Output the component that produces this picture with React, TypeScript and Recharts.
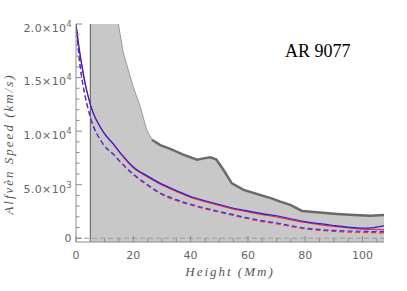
import React from "react";
import { ComposedChart, Line, Area, XAxis, YAxis, ReferenceLine } from "recharts";

// heights (Mm) shared by the four model curves
const heights = [0, 1, 2, 3, 4, 5, 6, 8, 10, 13, 16, 20, 25, 30, 35, 40, 45, 50, 55, 60, 65, 70, 75, 80, 85, 90, 95, 100, 104, 107.5];
const blueSolid = [20000, 17900, 16200, 14700, 13500, 12500, 11700, 10600, 9750, 8800, 7800, 6650, 5800, 5050, 4450, 3900, 3500, 3150, 2800, 2550, 2300, 2100, 1820, 1560, 1360, 1190, 1040, 940, 1000, 1150];
const redSolid = [20000, 17900, 16200, 14700, 13500, 12500, 11700, 10600, 9750, 8800, 7750, 6570, 5720, 4970, 4370, 3820, 3420, 3070, 2720, 2460, 2200, 1990, 1720, 1470, 1270, 1100, 960, 860, 820, 800];
const blueDashed = [20000, 17100, 15000, 13500, 12300, 11300, 10500, 9400, 8600, 7850, 7000, 6000, 5000, 4150, 3600, 3180, 2820, 2500, 2200, 1900, 1650, 1430, 1180, 950, 820, 730, 680, 650, 630, 620];
const redDashed = [20000, 17100, 15000, 13500, 12300, 11300, 10500, 9400, 8600, 7850, 6950, 5930, 4920, 4070, 3520, 3100, 2740, 2420, 2120, 1820, 1560, 1350, 1100, 880, 740, 640, 580, 540, 520, 500];

// upper edge of the grey band
const envHeights = [5, 10, 14.8, 16.5, 20, 22.4, 24.7, 26.5, 29.4, 32.9, 37, 42.2, 45, 46.9, 49, 51.5, 54.4, 58.5, 64.3, 68, 71.3, 74.8, 78.9, 85, 91.2, 97, 102.8, 107.5];
const envSpeed = [40000, 26000, 20000, 17300, 14100, 12300, 10100, 9200, 8700, 8350, 7850, 7330, 7480, 7560, 7350, 6370, 5130, 4510, 4040, 3750, 3420, 3110, 2550, 2400, 2270, 2170, 2090, 2170];
const thickFrom = 26.5;

const xTicks = [0, 5, 10, 15, 20, 25, 30, 35, 40, 45, 50, 55, 60, 65, 70, 75, 80, 85, 90, 95, 100, 105];
const yTicks = [0, 1000, 2000, 3000, 4000, 5000, 6000, 7000, 8000, 9000, 10000, 11000, 12000, 13000, 14000, 15000, 16000, 17000, 18000, 19000, 20000];
const yLabels: Record<number, [string, string]> = {
  0: ["0", ""],
  5000: ["5.0×10", "3"],
  10000: ["1.0×10", "4"],
  15000: ["1.5×10", "4"],
  20000: ["2.0×10", "4"],
};

const X_MAX = 107.5;
const Y_MIN = -350;
const Y_MAX = 20000;
const BAND_START = 5;

const AXIS = "#8a8a8a";
const LABEL = "#666";
const TICK_FONT = "DejaVu Sans";

const rows = (xs: number[], ys: number[]) => xs.map((h, i) => ({ h, v: ys[i] }));

const blueSolidData = rows(heights, blueSolid);
const redSolidData = rows(heights, redSolid);
const blueDashedData = rows(heights, blueDashed);
const redDashedData = rows(heights, redDashed);
const envData = rows(envHeights, envSpeed);
const envEdgeData = envData.filter((d) => d.h >= thickFrom);

const BottomTick = (props: any) => {
  const { x, y, payload } = props;
  const v = payload.value;
  const major = v % 20 === 0;
  const axisY = y - 9;
  return (
    <g>
      <line x1={x} x2={x} y1={axisY} y2={axisY - (major ? 6 : 3.5)} stroke={AXIS} />
      {major && (
        <text x={x} y={y} dy="0.71em" textAnchor="middle" fill={LABEL} fontSize={11} fontFamily={TICK_FONT}>
          {v}
        </text>
      )}
    </g>
  );
};

const TopTick = (props: any) => {
  const { x, y, payload } = props;
  const major = payload.value % 20 === 0;
  return <line x1={x} x2={x} y1={y} y2={y + (major ? 6 : 3.5)} stroke={AXIS} />;
};

const LeftTick = (props: any) => {
  const { x, y, payload } = props;
  const v = payload.value;
  const major = v % 5000 === 0;
  const axisX = x + 4;
  const lab = yLabels[v];
  return (
    <g>
      <line x1={axisX} x2={axisX + (major ? 6 : 3.5)} y1={y} y2={y} stroke={AXIS} />
      {lab && (
        <text
          x={x}
          y={lab[1] ? y + 4 : y}
          dy="0.35em"
          textAnchor="end"
          fill={LABEL}
          fontSize={11}
          fontFamily={TICK_FONT}
          letterSpacing={0.4}
        >
          {lab[0]}
          {lab[1] && (
            <tspan dy={-5} fontSize={8}>
              {lab[1]}
            </tspan>
          )}
        </text>
      )}
    </g>
  );
};

const RightTick = (props: any) => {
  const { x, y, payload } = props;
  const major = payload.value % 5000 === 0;
  return <line x1={x} x2={x - (major ? 6 : 3.5)} y1={y} y2={y} stroke={AXIS} />;
};

const titleStyle: React.CSSProperties = {
  position: "absolute",
  fontFamily: "'Liberation Serif', serif",
  fontStyle: "italic",
  fontSize: 13,
  letterSpacing: 2,
  color: "#555",
  whiteSpace: "nowrap",
};

export default function App() {
  return (
    <div style={{ position: "absolute", left: 0, top: 0, width: 407, height: 291, background: "#fff" }}>
      <ComposedChart width={407} height={291} margin={{ top: 24, right: 23, left: 0, bottom: 0 }}>
        <XAxis
          xAxisId="b"
          type="number"
          dataKey="h"
          domain={[0, X_MAX]}
          allowDataOverflow
          ticks={xTicks}
          interval={0}
          height={49}
          tickSize={0}
          tickMargin={9}
          tickLine={false}
          axisLine={{ stroke: AXIS }}
          tick={<BottomTick />}
        />
        <XAxis
          xAxisId="t"
          orientation="top"
          type="number"
          dataKey="h"
          domain={[0, X_MAX]}
          ticks={xTicks}
          interval={0}
          height={0}
          tickSize={0}
          tickMargin={0}
          tickLine={false}
          axisLine={{ stroke: AXIS }}
          tick={<TopTick />}
        />
        <YAxis
          yAxisId="l"
          type="number"
          domain={[Y_MIN, Y_MAX]}
          allowDataOverflow
          ticks={yTicks}
          interval={0}
          width={76}
          tickSize={0}
          tickMargin={4}
          tickLine={false}
          axisLine={{ stroke: AXIS }}
          tick={<LeftTick />}
        />
        <YAxis
          yAxisId="r"
          orientation="right"
          type="number"
          domain={[Y_MIN, Y_MAX]}
          ticks={yTicks}
          interval={0}
          width={0}
          tickSize={0}
          tickMargin={0}
          tickLine={false}
          axisLine={{ stroke: AXIS }}
          tick={<RightTick />}
        />
        <Area
          xAxisId="b"
          yAxisId="l"
          data={envData}
          dataKey="v"
          type="linear"
          baseValue={Y_MIN}
          fill="#c8c8c8"
          fillOpacity={1}
          stroke="#9a9a9a"
          strokeWidth={1}
          isAnimationActive={false}
        />
        <Line
          xAxisId="b"
          yAxisId="l"
          data={envEdgeData}
          dataKey="v"
          type="linear"
          stroke="#6a6a6a"
          strokeWidth={2.5}
          dot={false}
          isAnimationActive={false}
        />
        <ReferenceLine xAxisId="b" yAxisId="l" x={BAND_START} stroke="#555" strokeWidth={1} />
        <ReferenceLine xAxisId="b" yAxisId="l" y={0} stroke="#999" strokeDasharray="5 3" />
        <Line xAxisId="b" yAxisId="l" data={redDashedData} dataKey="v" type="monotone" stroke="#ff2a2a" strokeWidth={1.2} strokeDasharray="5 3" dot={false} isAnimationActive={false} />
        <Line xAxisId="b" yAxisId="l" data={blueDashedData} dataKey="v" type="monotone" stroke="#3030ff" strokeWidth={1.2} strokeDasharray="5 3" dot={false} isAnimationActive={false} />
        <Line xAxisId="b" yAxisId="l" data={redSolidData} dataKey="v" type="monotone" stroke="#ff2a2a" strokeWidth={1.2} dot={false} isAnimationActive={false} />
        <Line xAxisId="b" yAxisId="l" data={blueSolidData} dataKey="v" type="monotone" stroke="#2a1ee0" strokeWidth={1.2} dot={false} isAnimationActive={false} />
      </ComposedChart>
      <div style={{ ...titleStyle, left: 230, top: 272, transform: "translate(-50%, -50%)" }}>Height (Mm)</div>
      <div style={{ ...titleStyle, left: 9, top: 144, transform: "translate(-50%, -50%) rotate(-90deg)" }}>
        Alfvèn Speed (km/s)
      </div>
      <div
        style={{
          position: "absolute",
          left: 285,
          top: 41,
          fontFamily: "'Liberation Serif', serif",
          fontSize: 18,
          color: "#000",
          whiteSpace: "nowrap",
        }}
      >
        AR 9077
      </div>
    </div>
  );
}
